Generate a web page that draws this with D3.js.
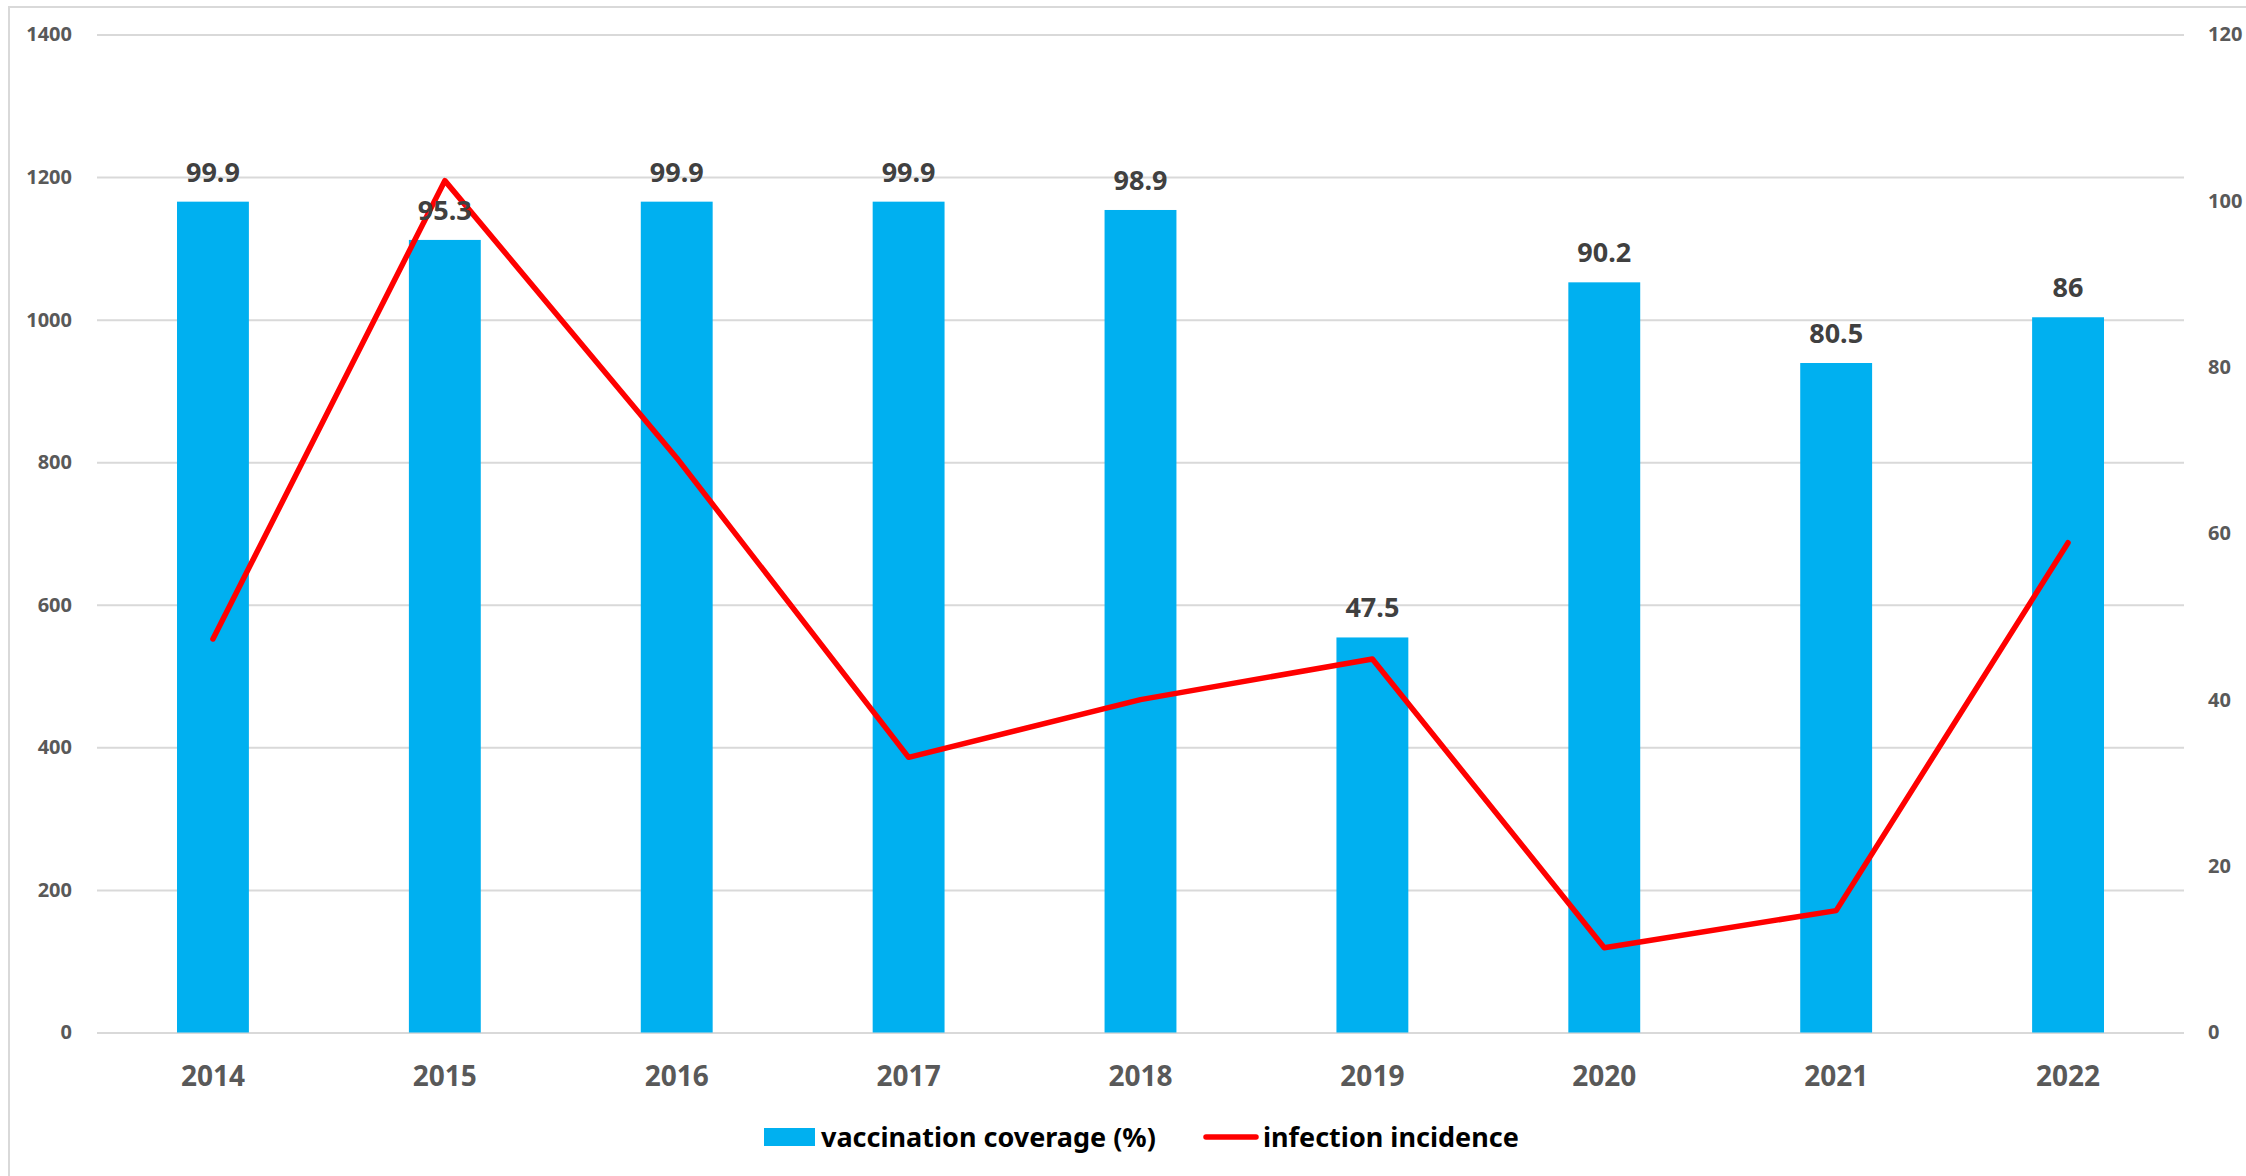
<!DOCTYPE html>
<html>
<head>
<meta charset="utf-8">
<script src="https://cdnjs.cloudflare.com/ajax/libs/d3/7.8.5/d3.min.js"></script>
<style>
body { margin:0; background:#fff; }
text { font-family:"Noto Sans", "Open Sans", sans-serif; font-weight:bold; }
</style>
</head>
<body>
<script>
var years    = ["2014","2015","2016","2017","2018","2019","2020","2021","2022"];
var coverage = [99.9, 95.3, 99.9, 99.9, 98.9, 47.5, 90.2, 80.5, 86];
var incidence = [552, 1195, 806, 386, 467, 524, 119, 171, 687];
var leftTicks  = [0,200,400,600,800,1000,1200,1400];
var rightTicks = [0,20,40,60,80,100,120];

var W = 2246, H = 1176;
var plotLeft = 97, plotRight = 2184, plotTop = 34.5, plotBottom = 1032.5;

var svg = d3.select("body")
    .append("svg")
    .attr("width", W)
    .attr("height", H);

// chart frame
svg.append("rect")
    .attr("x", 9).attr("y", 7)
    .attr("width", W + 20).attr("height", H + 20)
    .attr("fill", "none")
    .attr("stroke", "#d9d9d9")
    .attr("stroke-width", 2);

var x = d3.scaleBand()
    .domain(years)
    .range([plotLeft, plotRight])
    .paddingInner(0.69)
    .paddingOuter(0.345);

var yL = d3.scaleLinear().domain([0,1400]).range([plotBottom, plotTop]);
var yR = d3.scaleLinear().domain([0,120]).range([plotBottom, plotTop]);

// grid
var grid = svg.append("g")
    .attr("transform", "translate(" + plotLeft + ",0)")
    .call(d3.axisLeft(yL).tickValues(leftTicks).tickSize(-(plotRight-plotLeft)).tickFormat(""));
grid.select(".domain").remove();
grid.selectAll("line").attr("stroke", "#d9d9d9").attr("stroke-width", 2);

// left axis labels
var ax1 = svg.append("g")
    .attr("transform", "translate(" + plotLeft + ",0)")
    .call(d3.axisLeft(yL).tickValues(leftTicks).tickSize(0).tickPadding(25).tickFormat(d3.format("d")));
ax1.select(".domain").remove();
ax1.selectAll("text").attr("fill", "#595959").style("font-size", "20px");

// right axis labels
var ax2 = svg.append("g")
    .attr("transform", "translate(" + plotRight + ",0)")
    .call(d3.axisRight(yR).tickValues(rightTicks).tickSize(0).tickPadding(24).tickFormat(d3.format("d")));
ax2.select(".domain").remove();
ax2.selectAll("text").attr("fill", "#595959").style("font-size", "20px");

// bars (on right axis)
svg.selectAll(".bar").data(years)
    .enter().append("rect")
    .attr("class", "bar")
    .attr("x", function(d){ return x(d); })
    .attr("width", x.bandwidth())
    .attr("y", function(d,i){ return yR(coverage[i]); })
    .attr("height", function(d,i){ return plotBottom - yR(coverage[i]); })
    .attr("fill", "#00b0f0");

// line (on left axis)
var line = d3.line()
    .x(function(d,i){ return x(years[i]) + x.bandwidth()/2; })
    .y(function(d){ return yL(d); });

svg.append("path")
    .datum(incidence)
    .attr("d", line)
    .attr("fill", "none")
    .attr("stroke", "#ff0000")
    .attr("stroke-width", 5.5)
    .attr("stroke-linejoin", "round")
    .attr("stroke-linecap", "round");

// bar value labels
svg.selectAll(".lbl").data(years)
    .enter().append("text")
    .attr("class", "lbl")
    .attr("x", function(d){ return x(d) + x.bandwidth()/2; })
    .attr("y", function(d,i){ return yR(coverage[i]) - 20; })
    .attr("text-anchor", "middle")
    .attr("fill", "#404040")
    .style("font-size", "27px")
    .text(function(d,i){ return coverage[i]; });

// x axis labels
var ax3 = svg.append("g")
    .attr("transform", "translate(0," + plotBottom + ")")
    .call(d3.axisBottom(x).tickSize(0).tickPadding(34));
ax3.select(".domain").remove();
ax3.selectAll("text").attr("fill", "#595959").style("font-size", "28px");

// legend
var lg = svg.append("g");
lg.append("rect")
    .attr("x", 764).attr("y", 1128)
    .attr("width", 51).attr("height", 18)
    .attr("fill", "#00b0f0");
lg.append("text")
    .attr("x", 821).attr("y", 1147)
    .style("font-size", "27px")
    .attr("fill", "#000")
    .text("vaccination coverage (%)");
lg.append("line")
    .attr("x1", 1206).attr("x2", 1256)
    .attr("y1", 1137).attr("y2", 1137)
    .attr("stroke", "#ff0000")
    .attr("stroke-width", 5.5)
    .attr("stroke-linecap", "round");
lg.append("text")
    .attr("x", 1263).attr("y", 1147)
    .style("font-size", "27px")
    .attr("fill", "#000")
    .text("infection incidence");
</script>
</body>
</html>
